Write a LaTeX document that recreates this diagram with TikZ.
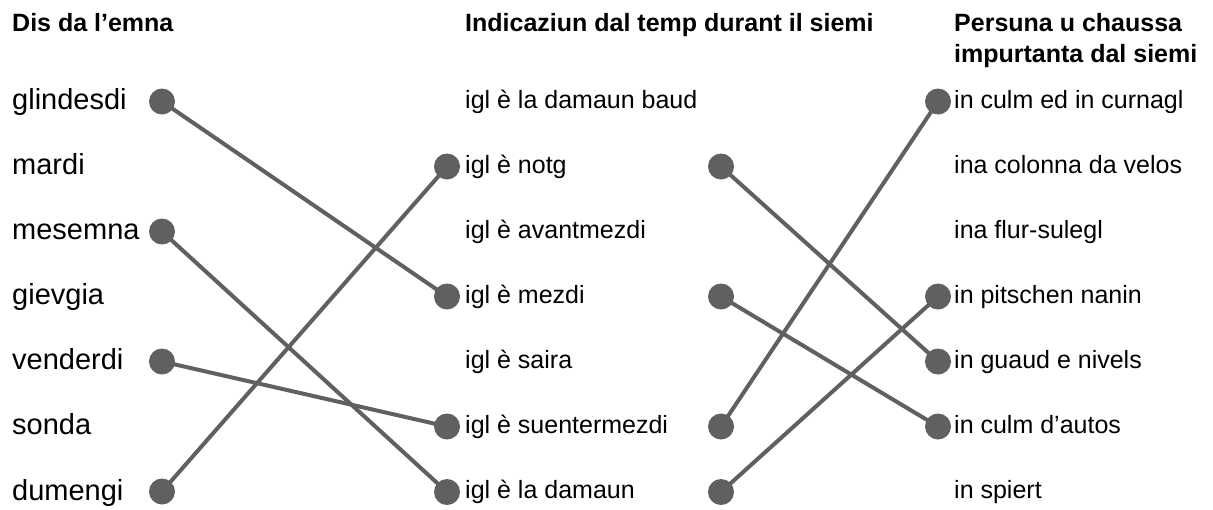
\documentclass[tikz,border=0pt]{standalone}
\usepackage{fontspec}
\setmainfont{Liberation Sans}
\definecolor{dotgray}{HTML}{606060}
\begin{document}
\begin{tikzpicture}[x=1pt,y=-1pt,
  dotnode/.style={circle,fill=dotgray,draw=none,inner sep=0pt,minimum size=26pt},
  link/.style={draw=dotgray,line width=4pt},
  lefttext/.style={anchor=base west,inner sep=0pt,font=\fontsize{29}{34}\selectfont},
  itemtext/.style={anchor=base west,inner sep=0pt,font=\fontsize{25}{30}\selectfont},
  headtext/.style={anchor=base west,inner sep=0pt,font=\fontsize{25}{31}\selectfont\bfseries,align=left}]
\useasboundingbox (0,0) rectangle (1213,509);
% headers
\node[headtext] (h1) at (12,31.5) {Dis da l’emna};
\node[headtext] (h2) at (465,31.5) {Indicaziun dal temp durant il siemi};
\node[headtext] (h3) at (954,31.5) {Persuna u chaussa};
\node[headtext] (h4) at (954,62.5) {impurtanta dal siemi};
% left column
\node[lefttext] (d1) at (12,109.5) {glindesdi};
\node[lefttext] (d2) at (12,174.5) {mardi};
\node[lefttext] (d3) at (12,239.5) {mesemna};
\node[lefttext] (d4) at (12,304.5) {gievgia};
\node[lefttext] (d5) at (12,369.5) {venderdi};
\node[lefttext] (d6) at (12,434.5) {sonda};
\node[lefttext] (d7) at (12,500) {dumengi};
\node[dotnode] (L1) at (162,101.5) {};
\node[dotnode] (L3) at (162,231.5) {};
\node[dotnode] (L5) at (162,361.5) {};
\node[dotnode] (L7) at (162,491.5) {};
% middle column
\node[itemtext] (t1) at (465,108) {igl è la damaun baud};
\node[itemtext] (t2) at (465,173) {igl è notg};
\node[itemtext] (t3) at (465,238) {igl è avantmezdi};
\node[itemtext] (t4) at (465,303) {igl è mezdi};
\node[itemtext] (t5) at (465,368) {igl è saira};
\node[itemtext] (t6) at (465,433) {igl è suentermezdi};
\node[itemtext] (t7) at (465,498.5) {igl è la damaun};
\node[dotnode] (M2) at (447,166.5) {};
\node[dotnode] (M4) at (447,296.5) {};
\node[dotnode] (M6) at (447,426.5) {};
\node[dotnode] (M7) at (447,492) {};
\node[dotnode] (N2) at (721,166.5) {};
\node[dotnode] (N4) at (721,296.5) {};
\node[dotnode] (N6) at (721,426.5) {};
\node[dotnode] (N7) at (721,492) {};
% right column
\node[itemtext] (p1) at (954,108) {in culm ed in curnagl};
\node[itemtext] (p2) at (954,173) {ina colonna da velos};
\node[itemtext] (p3) at (954,238) {ina flur-sulegl};
\node[itemtext] (p4) at (954,303) {in pitschen nanin};
\node[itemtext] (p5) at (954,368) {in guaud e nivels};
\node[itemtext] (p6) at (954,433) {in culm d’autos};
\node[itemtext] (p7) at (954,498.5) {in spiert};
\node[dotnode] (R1) at (938,101.5) {};
\node[dotnode] (R4) at (938,296.5) {};
\node[dotnode] (R5) at (938,361.5) {};
\node[dotnode] (R6) at (938,426.5) {};
% connectors
\draw[link] (L1.center) -- (M4.center);
\draw[link] (L3.center) -- (M7.center);
\draw[link] (L5.center) -- (M6.center);
\draw[link] (L7.center) -- (M2.center);
\draw[link] (N2.center) -- (R5.center);
\draw[link] (N4.center) -- (R6.center);
\draw[link] (N6.center) -- (R1.center);
\draw[link] (N7.center) -- (R4.center);
\end{tikzpicture}
\end{document}
